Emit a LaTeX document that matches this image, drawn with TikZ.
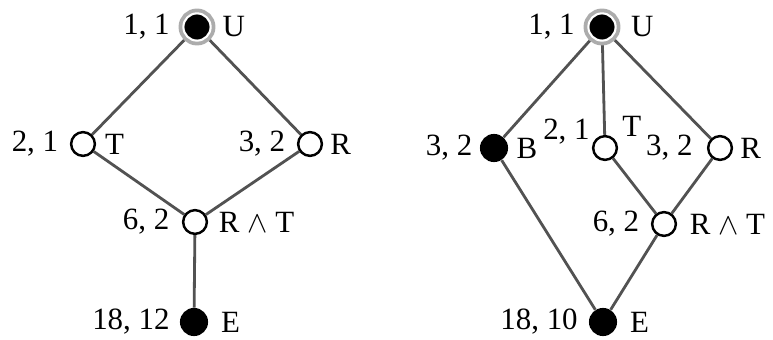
\documentclass[tikz,border=0pt]{standalone}
\usepackage{fontspec}
\setmainfont{Liberation Serif}
\usetikzlibrary{calc, backgrounds}

\begin{document}
\begin{tikzpicture}[x=0.02cm, y=-0.02cm,
    hollow/.style={circle, draw=black, fill=white, line width=1.4pt, minimum size=13.5pt, inner sep=0pt},
    filled/.style={circle, fill=black, minimum size=16pt, inner sep=0pt},
    topnode/.style={circle, fill=black, draw=white, line width=1.2pt, minimum size=15.5pt, inner sep=0pt, preaction={draw=gray!65, line width=5.5pt}},
    edge/.style={draw=black!68, line width=1.6pt},
    every label/.style={font=\fontsize{17.6}{20}\selectfont, inner sep=2pt},
    label distance=3pt,
    tag/.style={font=\fontsize{17.6}{20}\selectfont, inner sep=0pt}]

    \useasboundingbox (0,0) rectangle (773,340);

    % left lattice
    \node [topnode, label={[label distance=5pt]left:{1, 1}}, label={[label distance=4pt]right:U}] (lU) at (197,27) {};
    \node [hollow, label={[label distance=4.5pt]left:{2, 1}}, label=right:T] (lT) at (83,144) {};
    \node [hollow, label={[label distance=4.5pt]left:{3, 2}}, label={[label distance=2pt]right:R}] (lR) at (310,144) {};
    \node [hollow, label={[label distance=5pt]left:{6, 2}}, label={[label distance=4pt]right:R $\wedge$ T}] (lRT) at (195,222) {};
    \node [filled, label={[label distance=3.5pt]left:{18, 12}}, label={[label distance=5pt]right:E}] (lE) at (194,322) {};

    % right lattice
    \node [topnode, label={[label distance=5pt]left:{1, 1}}, label={[label distance=6pt]right:U}] (rU) at (602,27) {};
    \node [filled, label={[label distance=2pt]left:{3, 2}}, label={[label distance=2.5pt]right:B}] (rB) at (494,148) {};
    \node [hollow] (rT) at (605,148) {};
    \node [tag, anchor=base east] (rT21) at ($(rT)+(-15,-8)$) {2, 1};
    \node [tag, anchor=base west] (rTT) at ($(rT)+(17,-11)$) {T};
    \node [hollow, label={[label distance=6pt]left:{3, 2}}, label={[label distance=2pt]right:R}] (rR) at (720,148) {};
    \node [hollow, label={[label distance=4.5pt]left:{6, 2}}, label={[label distance=5pt]right:R $\wedge$ T}] (rRT) at (664,224) {};
    \node [filled, label={[label distance=4pt]left:{18, 10}}, label={[label distance=5pt]right:E}] (rE) at (603,322) {};

    \begin{scope}[on background layer]
        \draw [edge] (lU) -- (lT);
        \draw [edge] (lU) -- (lR);
        \draw [edge] (lT) -- (lRT);
        \draw [edge] (lR) -- (lRT);
        \draw [edge] (lRT) -- (lE);

        \draw [edge] (rU) -- (rB);
        \draw [edge] (rU) -- (rT);
        \draw [edge] (rU) -- (rR);
        \draw [edge] (rT) -- (rRT);
        \draw [edge] (rR) -- (rRT);
        \draw [edge] (rB) -- (rE);
        \draw [edge] (rRT) -- (rE);
    \end{scope}
\end{tikzpicture}
\end{document}
